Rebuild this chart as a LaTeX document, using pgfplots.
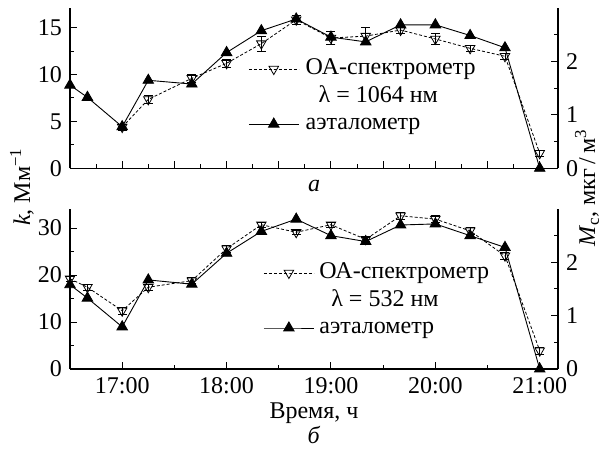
\documentclass[border=0pt]{standalone}
\usepackage{fontspec}
\setmainfont{Liberation Serif}
\usepackage{pgfplots}
\usepackage{pgfplotstable}
\pgfplotsset{compat=1.18}

% OA-spectrometer, k in 1/Mm (time in hours)
\pgfplotstableread{
t      k     e
17.0   4.4   0.3
17.25  7.35  0.4
17.667 9.6   0.4
18.0   11.2  0.4
18.333 13.3  0.8
18.667 15.85 0.5
19.0   13.9  0.7
19.333 14.1  0.9
19.667 14.75 0.3
20.0   13.8  0.6
20.333 12.8  0.3
20.667 11.95 0.3
21.0   1.6   0.3
}\oatop
% aethalometer, Mc in ug/m3
\pgfplotstableread{
t      m
16.5   1.56
16.667 1.33
17.0   0.78
17.25  1.65
17.667 1.58
18.0   2.17
18.333 2.58
18.667 2.80
19.0   2.46
19.333 2.37
19.667 2.69
20.0   2.69
20.333 2.49
20.667 2.26
21.0   0.0
}\aettop
\pgfplotstableread{
t      k     e
16.5   19.2  0.6
16.667 17.4  0.6
17.0   12.4  0.7
17.25  17.4  0.7
17.667 18.8  0.6
18.0   25.6  0.7
18.333 30.7  0.5
18.667 29.1  0.5
19.0   30.7  0.6
19.333 27.6  0.5
19.667 32.6  0.8
20.0   31.9  0.7
20.333 29.4  0.8
20.667 24.1  0.8
21.0   3.9   0.8
}\oabot
\pgfplotstableread{
t      m
16.5   1.58
16.667 1.33
17.0   0.79
17.25  1.67
17.667 1.59
18.0   2.17
18.333 2.58
18.667 2.81
19.0   2.50
19.333 2.39
19.667 2.70
20.0   2.72
20.333 2.50
20.667 2.28
21.0   0.0
}\aetbot

\pgfplotsset{
  panel/.style={
    scale only axis, width=488pt, height=160pt,
    xmin=16.5, xmax=21.175, clip=false,
    axis line style={line width=1.1pt},
    tick style={line width=1pt, black},
    major tick length=7pt, minor tick length=4pt,
    tick align=inside,
    /pgf/number format/assume math mode=true,
  },
  oa/.style={black, densely dashed, line width=0.8pt, mark=triangle, mark size=5.5pt,
    mark options={solid, rotate=180, fill=white, line width=0.8pt}},
  aet/.style={black, solid, line width=0.9pt, mark=triangle*, mark size=6pt, mark options={solid}},
  errs/.style={error bars/.cd, y dir=both, y explicit,
    error bar style={solid, line width=0.7pt},
    error mark options={rotate=90, mark size=4.5pt, line width=0.7pt, solid},
    /pgfplots/.cd},
  leg/.style 2 args={legend style={at={#1}, anchor=north west, draw=none, fill=none,
    inner sep=0pt, row sep=5.5pt, column sep=#2,
    nodes={inner sep=0pt, text height=16.5pt, text depth=5.5pt}},
    legend cell align=left,
    legend image code/.code={\draw[mark repeat=2,mark phase=2]
      plot coordinates {(0pt,0pt)(25pt,0pt)(50pt,0pt)};}},
}

\begin{document}
\fontsize{24}{28}\selectfont
\begin{tikzpicture}
\path[use as bounding box] (0pt,0pt) rectangle (603pt,450pt);

% ---- panel a ----
\begin{axis}[panel, at={(70pt,281.7pt)}, anchor=south west,
  axis y line*=left, axis x line*=bottom,
  ymin=0, ymax=17.07, ytick={0,5,10,15}, minor ytick={2.5,7.5,12.5},
  xtick={16.5,17,...,21}, minor xtick={16.75,17.25,...,20.75}, xticklabels={},
  leg={(0.365,0.69)}{6.5pt}]
\addlegendimage{oa}
\addlegendentry{ОА-спектрометр}
\addlegendimage{empty legend}
\addlegendentry{\hspace*{13pt}λ = 1064 нм}
\addlegendimage{aet}
\addlegendentry{аэталометр}
\addplot[forget plot, oa, errs] table[x=t, y=k, y error=e] {\oatop};
\end{axis}
\begin{axis}[panel, at={(70pt,281.7pt)}, anchor=south west,
  axis y line*=right, axis x line=none,
  ymin=0, ymax=3, ytick={0,1,2}, minor ytick={0.5,1.5,2.5}]
\addplot[aet] table[x=t, y=m] {\aettop};
\end{axis}

% ---- panel b ----
\begin{axis}[panel, at={(70pt,81pt)}, anchor=south west,
  axis y line*=left, axis x line*=bottom,
  ymin=0, ymax=34.05, ytick={0,10,20,30}, minor ytick={5,15,25},
  xtick={17,18,19,20,21}, minor xtick={17.5,18.5,19.5,20.5},
  xticklabels={17:00,18:00,19:00,20:00,21:00},
  leg={(0.396,0.67)}{5pt}]
\addlegendimage{oa}
\addlegendentry{ОА-спектрометр}
\addlegendimage{empty legend}
\addlegendentry{\hspace*{12pt}λ = 532 нм}
\addlegendimage{aet}
\addlegendentry{аэталометр}
\addplot[forget plot, oa, errs] table[x=t, y=k, y error=e] {\oabot};
\end{axis}
\begin{axis}[panel, at={(70pt,81pt)}, anchor=south west,
  axis y line*=right, axis x line=none,
  ymin=0, ymax=3, ytick={0,1,2}, minor ytick={0.5,1.5,2.5}]
\addplot[aet] table[x=t, y=m] {\aetbot};
\end{axis}

\node[rotate=90] at (22pt,263pt) {\textit{k}, Мм\textsuperscript{−1}};
\node[rotate=90] at (587pt,262pt) {\textit{M}\textsubscript{c},~мкг\,/\,м\textsuperscript{3}};
\node at (314pt,264pt) {\textit{а}};
\node at (314pt,37pt) {Время, ч};
\node at (314pt,15pt) {\textit{б}};
\end{tikzpicture}
\end{document}
